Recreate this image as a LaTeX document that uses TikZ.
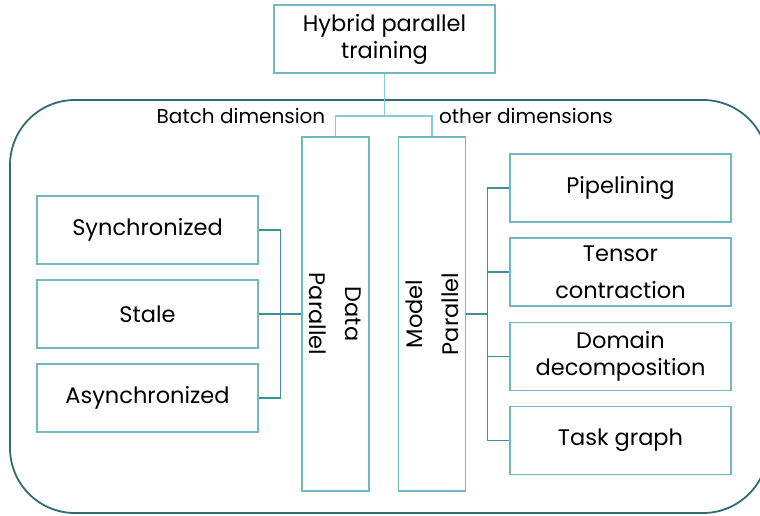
\documentclass[tikz,border=0pt]{standalone}
\usepackage{fontspec}
\setmainfont{Poppins}
\usepackage{tikz}

\definecolor{boxline}{HTML}{72B8C0}
\definecolor{stemline}{HTML}{86CCD4}
\definecolor{sideline}{HTML}{3F9099}
\definecolor{frameline}{HTML}{2F6C73}

\tikzset{
  leaf/.style={draw=boxline, line width=1.3pt, fill=white, minimum width=221pt,
    minimum height=68pt, align=center, inner sep=0pt, font=\fontsize{22.5}{27}\selectfont},
  column/.style={draw=boxline, line width=1.3pt, fill=white, minimum width=67pt,
    minimum height=354pt, inner sep=0pt},
  coltext/.style={align=center, font=\fontsize{22.5}{36}\selectfont},
  dimlabel/.style={font=\fontsize{20}{22}\selectfont},
}

\begin{document}
\begin{tikzpicture}[x=1pt, y=-1pt]
  \useasboundingbox (0,0) rectangle (760,515);

  % Moldura
  \draw[frameline, line width=1.8pt, rounded corners=65pt] (10,100) rectangle (768,513);

  % Topo
  \node[leaf] (hybrid) at (384.5,39) {Hybrid parallel\\training};
  \node[dimlabel] (batch) at (241,116) {Batch dimension};
  \node[dimlabel] (other) at (526,116) {other dimensions};
  \coordinate (fork) at (384.5,116);

  % Colunas
  \node[column] (data) at (335.5,314) {};
  \node[coltext, rotate=-90] (datatxt) at (data.center) {Data\\Parallel};
  \node[column] (model) at (432,314) {};
  \node[coltext, rotate=90] (modeltxt) at (model.center) {Model\\Parallel};

  % Lado esquerdo
  \node[leaf] (sync) at (147.5,230) {Synchronized};
  \node[leaf] (stale) at (147.5,314) {Stale};
  \node[leaf] (async) at (147.5,398) {Asynchronized};

  % Lado direito
  \node[leaf] (pipe) at (620.5,188) {Pipelining};
  \node[leaf, font=\fontsize{22.5}{37}\selectfont] (tensor) at (620.5,272) {Tensor\\contraction};
  \node[leaf] (domain) at (620.5,356.5) {Domain\\decomposition};
  \node[leaf] (task) at (620.5,440.5) {Task graph};

  % Linhas
  \draw[stemline, line width=1.8pt] (hybrid) -- (fork);
  \draw[stemline, line width=1.8pt] (data.north) |- (fork) -| (model.north);

  \draw[sideline, line width=1.1pt] (sync.east) -- ++(22,0) |- (async.east);
  \draw[sideline, line width=1.1pt] (stale.east) -- (data.west);

  \draw[sideline, line width=1.1pt] (pipe.west) -- ++(-22,0) |- (task.west);
  \draw[sideline, line width=1.1pt] (tensor.west) -- ++(-22,0);
  \draw[sideline, line width=1.1pt] (domain.west) -- ++(-22,0);
  \draw[sideline, line width=1.1pt] (model.east) -- ++(22,0);
\end{tikzpicture}
\end{document}
